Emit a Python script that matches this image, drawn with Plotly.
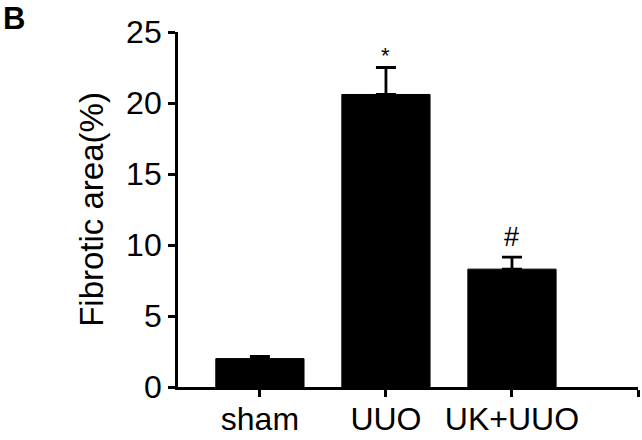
import plotly.graph_objects as go

categories = ["sham", "UUO", "UK+UUO"]
means = [2.0, 20.6, 8.3]
errors = [0.15, 1.9, 0.85]
marks = ["", "*", "#"]
y_ticks = [0, 5, 10, 15, 20, 25]

xpos = list(range(len(categories)))
FONT = "Liberation Sans, Arial, sans-serif"

fig = go.Figure()
fig.add_trace(go.Bar(
    x=xpos, y=means, width=0.7,
    marker=dict(color="black", line=dict(color="black", width=1)),
    error_y=dict(type="data", symmetric=False, array=errors,
                 arrayminus=[0] * len(errors), color="black",
                 thickness=2.8, width=10),
    showlegend=False,
))

for x, m, e, t in zip(xpos, means, errors, marks):
    if t:
        fig.add_annotation(x=x, y=m + e, text=t, showarrow=False,
                           yanchor="bottom", yshift=3 if t == "#" else -2,
                           font=dict(family=FONT, size=27 if t == "#" else 22, color="black"))

fig.add_annotation(x=-0.382, y=1.09, xref="paper", yref="paper", text="<b>B</b>",
                   showarrow=False, xanchor="left", yanchor="top", borderpad=0,
                   font=dict(family=FONT, size=31, color="black"))

fig.update_layout(
    width=642, height=440,
    margin=dict(l=178, r=4, t=32, b=53, autoexpand=False),
    paper_bgcolor="white", plot_bgcolor="white",
    font=dict(family=FONT, color="black"),
)
fig.update_xaxes(
    range=[-0.65, 3.0], tickvals=xpos + [3], ticktext=categories + [""],
    showline=True, linecolor="black", linewidth=2.8,
    ticks="outside", ticklen=7, tickwidth=2.8, tickcolor="black",
    tickfont=dict(family=FONT, size=32, color="black"),
    ticklabelstandoff=-5,
    showgrid=False, zeroline=False, automargin=False,
)
fig.update_yaxes(
    range=[0, 25], tickvals=y_ticks,
    showline=True, linecolor="black", linewidth=2.8,
    ticks="outside", ticklen=7, tickwidth=2.8, tickcolor="black",
    tickfont=dict(family=FONT, size=32, color="black"),
    title=dict(text="Fibrotic area(%)", font=dict(family=FONT, size=33, color="black"), standoff=13),
    showgrid=False, zeroline=False, automargin=False,
)

fig.write_html("out.html", config={"displayModeBar": False},
               post_script="document.body.style.margin='0';document.body.style.overflow='hidden';")
